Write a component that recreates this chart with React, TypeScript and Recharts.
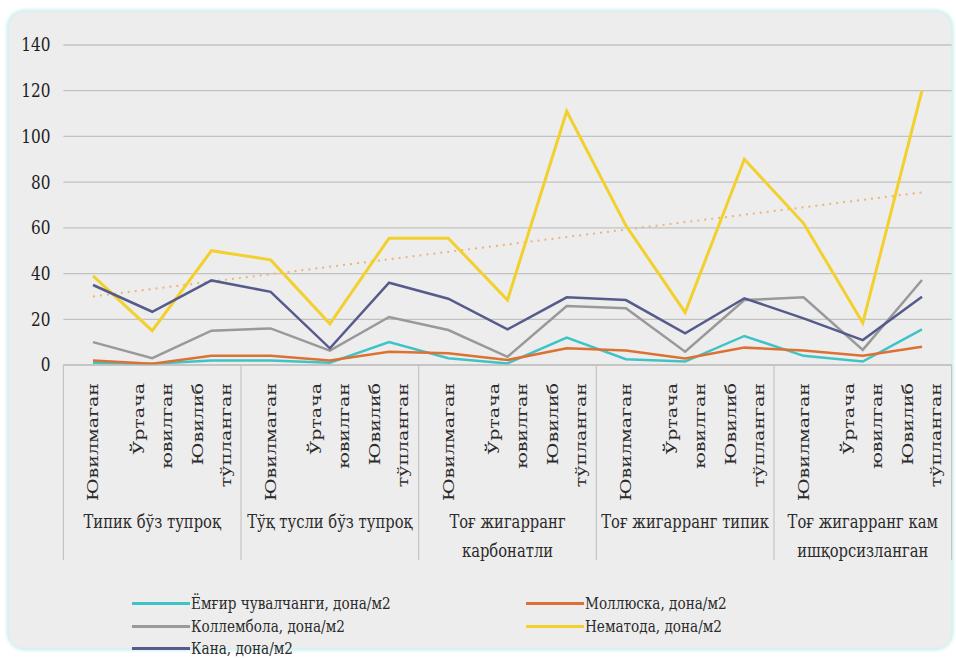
import React from 'react';
import { LineChart, Line, XAxis, YAxis, CartesianGrid, Legend, ReferenceLine } from 'recharts';

const subLabels: string[][] = [['Ювилмаган'], ['Ўртача', 'ювилган'], ['Ювилиб', 'тўпланган']];
const groupLabels: string[][] = [
  ['Типик бўз тупроқ'],
  ['Тўқ тусли бўз тупроқ'],
  ['Тоғ жигарранг', 'карбонатли'],
  ['Тоғ жигарранг типик'],
  ['Тоғ жигарранг кам', 'ишқорсизланган'],
];
const yTicks = [0, 20, 40, 60, 80, 100, 120, 140];

const emgir = [1, 0.5, 2, 2, 1, 10, 3, 0.7, 12, 2.5, 1.5, 12.7, 4, 1.5, 15.6];
const mollyuska = [2, 0.5, 4, 4, 2, 5.8, 5.1, 2.2, 7.3, 6.3, 2.9, 7.6, 6.3, 4, 8];
const kollembola = [10, 3, 15, 16, 6.3, 21, 15.3, 3.6, 25.8, 24.8, 5.8, 28.4, 29.6, 6.6, 37.2];
const nematoda = [39, 15, 50, 46, 18, 55.5, 55.5, 28.4, 111, 61, 23, 90, 62, 18.4, 120];
const kana = [35, 23.3, 37, 32, 7.3, 36, 29, 15.6, 29.6, 28.4, 13.9, 29.2, 20.4, 10.9, 29.9];
const nematodaTrend = [30, 75.5];

const series = [
  { key: 'emgir', name: 'Ёмғир чувалчанги, дона/м2', color: '#3ec3c6', values: emgir, width: 2.5 },
  { key: 'mollyuska', name: 'Моллюска, дона/м2', color: '#dc7133', values: mollyuska, width: 2.5 },
  { key: 'kollembola', name: 'Коллембола, дона/м2', color: '#999999', values: kollembola, width: 2.5 },
  { key: 'nematoda', name: 'Нематода, дона/м2', color: '#f2d02e', values: nematoda, width: 3 },
  { key: 'kana', name: 'Кана, дона/м2', color: '#555b8a', values: kana, width: 2.5 },
];

const data = groupLabels.flatMap((g, gi) =>
  subLabels.map((s, si) => {
    const i = gi * 3 + si;
    const row: any = { id: 'c' + i, sub: s, group: g, gi, si };
    series.forEach((sr) => {
      row[sr.key] = sr.values[i];
    });
    return row;
  })
);

const W = 956;
const H = 658;
const PLOT_LEFT = 63.4;
const PLOT_RIGHT = 4.4;
const PLOT_TOP = 45;
const PLOT_BOTTOM = 365;
const BAND = (W - PLOT_LEFT - PLOT_RIGHT) / data.length;
const FONT = '"DejaVu Serif", serif';
const TEXT = '#2b2b2b';
const SEP = '#c4c4c4';

const YTick = (props: any) => {
  const { x, y, payload } = props;
  return (
    <g transform={`translate(${x},${y})`}>
      <text transform="scale(0.85,1)" textAnchor="end" dominantBaseline="central" style={{ fontFamily: FONT }} fontSize={18} fill="#1e1e1e">
        {payload.value}
      </text>
    </g>
  );
};

const XTick = (props: any) => {
  const { x, y, index } = props;
  const row = data[index];
  if (!row) return null;
  const lines: string[] = row.sub;
  const offsets = lines.length === 1 ? [0] : [-14, 14];
  const base = y;
  return (
    <g>
      {lines.map((ln, k) => (
        <text
          key={k}
          transform={`translate(${x + offsets[k]},${base + 18}) scale(0.82,1) rotate(-90)`}
          textAnchor="end"
          dominantBaseline="central"
          style={{ fontFamily: FONT }}
          fontSize={19}
          fill={TEXT}
        >
          {ln}
        </text>
      ))}
      {row.si === 1 &&
        (row.group as string[]).map((ln, k) => (
          <text
            key={'g' + k}
            transform={`translate(${x},${base + 157 + k * 29}) scale(0.82,1)`}
            textAnchor="middle"
            dominantBaseline="central"
            style={{ fontFamily: FONT }}
            fontSize={18}
            fill={TEXT}
          >
            {ln}
          </text>
        ))}
      {row.si === 0 && <line x1={x - BAND / 2} x2={x - BAND / 2} y1={base} y2={base + 195} stroke={SEP} strokeWidth={1.2} />}
      {index === data.length - 1 && (
        <line x1={x + BAND / 2} x2={x + BAND / 2} y1={base} y2={base + 195} stroke={SEP} strokeWidth={1.2} />
      )}
    </g>
  );
};

const legendLayout = [
  { col: 0, row: 0 },
  { col: 1, row: 0 },
  { col: 0, row: 1 },
  { col: 1, row: 1 },
  { col: 0, row: 2 },
];
const legendCols = [132, 526];
const legendRows = [13, 36, 58];

const LegendContent = () => (
  <div style={{ position: 'relative', width: W, height: 70 }}>
    {series.map((s, i) => {
      const pos = legendLayout[i];
      const left = legendCols[pos.col];
      const top = legendRows[pos.row];
      return (
        <div key={s.key}>
          <div
            style={{
              position: 'absolute',
              left,
              top: top - 1.5,
              width: 58,
              height: 3,
              background: s.color,
            }}
          />
          <div
            style={{
              position: 'absolute',
              left: left + 59,
              top: top - 11,
              height: 22,
              lineHeight: '22px',
              fontFamily: FONT,
              fontSize: 17,
              color: TEXT,
              whiteSpace: 'nowrap',
              transform: 'scale(0.8,1)',
              transformOrigin: 'left center',
            }}
          >
            {s.name}
          </div>
        </div>
      );
    })}
  </div>
);

export default function App() {
  return (
    <div style={{ position: 'fixed', left: 0, top: 0, width: W, height: H, background: '#ffffff', overflow: 'hidden' }}>
      <div
        style={{
          position: 'absolute',
          left: 9,
          top: 12,
          width: 942,
          height: 636,
          background: '#ededed',
          borderRadius: 16,
          boxShadow: '0 0 3px 3px #d6f1f1',
        }}
      />
      <div style={{ position: 'absolute', left: 0, top: 0 }}>
        <LineChart
          width={W}
          height={H}
          data={data}
          margin={{ top: PLOT_TOP, right: PLOT_RIGHT, left: 0, bottom: 0 }}
        >
          <CartesianGrid vertical={false} stroke="#c2c2c2" strokeWidth={1.3} />
          <XAxis
            dataKey="id"
            height={H - PLOT_BOTTOM}
            interval={0}
            padding={{ left: BAND / 2, right: BAND / 2 }}
            tickLine={false}
            tickSize={0}
            tickMargin={0}
            axisLine={{ stroke: '#bdbdbd', strokeWidth: 1.2 }}
            tick={<XTick />}
          />
          <YAxis
            width={PLOT_LEFT}
            domain={[0, 140]}
            ticks={yTicks}
            axisLine={false}
            tickLine={false}
            tickSize={0}
            tickMargin={13}
            tick={<YTick />}
          />
          <ReferenceLine
            segment={[
              { x: data[0].id, y: nematodaTrend[0] },
              { x: data[data.length - 1].id, y: nematodaTrend[1] },
            ]}
            stroke="#efb37a"
            strokeWidth={2}
            strokeDasharray="2 5"
            ifOverflow="visible"
          />
          {series.map((s) => (
            <Line
              key={s.key}
              type="linear"
              dataKey={s.key}
              name={s.name}
              stroke={s.color}
              strokeWidth={s.width}
              dot={false}
              activeDot={false}
              isAnimationActive={false}
            />
          ))}
          <Legend
            layout="horizontal"
            verticalAlign="middle"
            align="center"
            wrapperStyle={{ position: 'absolute', left: 0, top: 590, width: W, height: 68 }}
            content={<LegendContent />}
          />
        </LineChart>
      </div>
    </div>
  );
}
